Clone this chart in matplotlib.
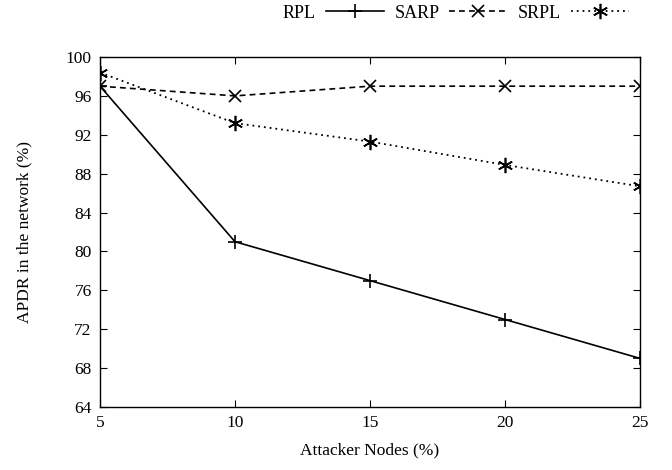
import matplotlib
matplotlib.use("Agg")
import matplotlib.pyplot as plt

plt.rcParams['font.family'] = ['Liberation Serif', 'DejaVu Serif']
plt.rcParams['font.size'] = 13

# Data
attackers = [5, 10, 15, 20, 25]
rpl = [97, 81, 77, 73, 69]
sarp = [97, 96, 97, 97, 97]
srpl = [98.4, 93.2, 91.3, 88.9, 86.7]

x_ticks = [5, 10, 15, 20, 25]
y_ticks = [64, 68, 72, 76, 80, 84, 88, 92, 96, 100]

fig = plt.figure(figsize=(6.72, 4.70), dpi=100)
ax = fig.add_axes([100 / 672, 1 - 407 / 470, 540 / 672, 350 / 470])

ax.plot(attackers, rpl, color='black', lw=1.2, ls='-', marker='+',
        ms=10, mew=1.2, label='RPL')
ax.plot(attackers, sarp, color='black', lw=1.2, ls=(0, (3.5, 2.5)), marker='x',
        ms=9, mew=1.2, label='SARP')
ax.plot(attackers, srpl, color='black', lw=1.3, ls=(0, (1, 2.2)), marker=(6, 2, 0),
        ms=11, mew=1.2, label='SRPL')

ax.set_xlim(5, 25)
ax.set_ylim(64, 100)
ax.set_xticks(x_ticks)
ax.set_yticks(y_ticks)
ax.tick_params(direction='in', top=True, right=True, length=5, width=0.8,
               labelsize=12.5, pad=6)
for s in ax.spines.values():
    s.set_linewidth(1.0)

ax.set_xlabel('Attacker Nodes (%)', fontsize=12.5, labelpad=8)
ax.set_ylabel('APDR in the network (%)', fontsize=12.5, labelpad=24)

fig.legend(loc='center right', bbox_to_anchor=(0.96, 0.972), ncol=3,
           frameon=False, markerfirst=False, handlelength=3.2,
           handletextpad=0.55, columnspacing=0.6, fontsize=13)

fig.savefig('out.png', dpi=100)
